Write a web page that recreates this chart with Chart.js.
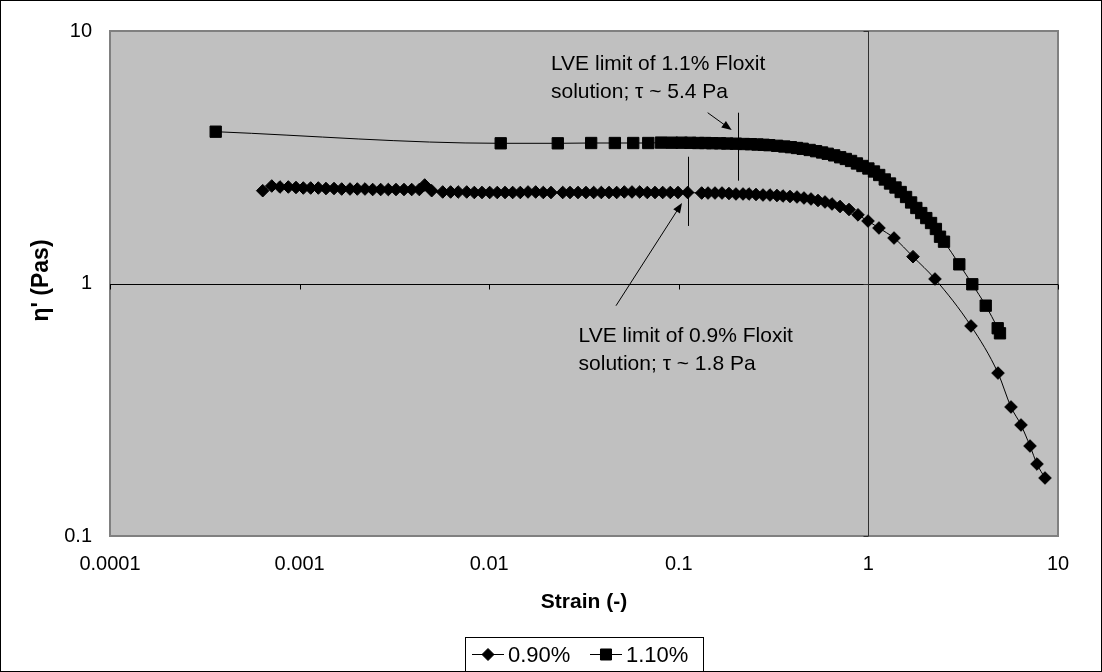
<!DOCTYPE html>
<html>
<head>
<meta charset="utf-8">
<script src="https://cdn.jsdelivr.net/npm/chart.js@4.4.1/dist/chart.umd.min.js"></script>
<style>
  html, body { margin: 0; padding: 0; background: #fff; }
</style>
</head>
<body>
<canvas id="chart" width="1102" height="672"></canvas>
<script>
// ==============================
// Data
// ==============================
const seriesLabels = ["0.90%", "1.10%"];

// 0.90% Floxit (diamonds)
const strain090 = [
  0.000639, 0.000713, 0.000788, 0.000872, 0.000957, 0.001046, 0.001144, 0.001255, 0.001378, 0.001519,
  0.001667, 0.001844, 0.002015, 0.002212, 0.002429, 0.002677, 0.002937, 0.003224, 0.003553, 0.003902,
  0.004280, 0.004568, 0.004972,
  0.005685, 0.006258, 0.006863, 0.007610, 0.008345, 0.009163, 0.01006, 0.01103, 0.01212, 0.01330,
  0.01459, 0.01602, 0.01758, 0.01929, 0.02118,
  0.02442, 0.02668, 0.02940,
  0.03239, 0.03557, 0.03903, 0.04284, 0.04704, 0.05160, 0.05664, 0.06219, 0.06823, 0.07490,
  0.08224, 0.09020, 0.09904, 0.1113,
  0.1320,
  0.1426, 0.1552, 0.1690, 0.1839, 0.2002, 0.2181, 0.2346, 0.2554, 0.2780, 0.3027,
  0.3295, 0.3544, 0.3859, 0.4201, 0.4573, 0.4981, 0.5422, 0.5903, 0.6427, 0.7084,
  0.7902, 0.8812, 0.9952, 1.137, 1.365, 1.719, 2.245, 3.476, 4.826, 5.650,
  6.381, 7.118, 7.749, 8.540
];
const eta090 = [
  2.331, 2.433, 2.411, 2.411, 2.400, 2.389, 2.389, 2.389, 2.378, 2.378,
  2.367, 2.367, 2.367, 2.367, 2.356, 2.356, 2.356, 2.356, 2.356, 2.356,
  2.356, 2.455, 2.331,
  2.304, 2.304, 2.304, 2.304, 2.293, 2.293, 2.293, 2.293, 2.293, 2.293,
  2.293, 2.304, 2.304, 2.293, 2.293,
  2.293, 2.293, 2.293,
  2.293, 2.293, 2.293, 2.293, 2.293, 2.304, 2.304, 2.304, 2.293, 2.293,
  2.293, 2.293, 2.293, 2.293,
  2.282,
  2.282, 2.282, 2.282, 2.272, 2.262, 2.262, 2.262, 2.252, 2.241, 2.241,
  2.231, 2.221, 2.211, 2.201, 2.181, 2.161, 2.132, 2.103, 2.065, 2.018,
  1.964, 1.870, 1.768, 1.659, 1.514, 1.277, 1.042, 0.6789, 0.4419, 0.3243,
  0.2752, 0.2272, 0.1928, 0.1697
];

// 1.10% Floxit (squares)
const strain110 = [
  0.000361, 0.0115, 0.023, 0.0345, 0.046, 0.0575, 0.069, 0.0805, 0.092, 0.1035,
  0.115, 0.1265, 0.138, 0.15, 0.165, 0.18, 0.2, 0.22, 0.24, 0.26,
  0.28, 0.3, 0.33, 0.36, 0.39, 0.42, 0.45, 0.49, 0.53, 0.57,
  0.61, 0.66, 0.71, 0.76, 0.81, 0.87, 0.93, 1.0, 1.07, 1.14,
  1.22, 1.3, 1.39, 1.48, 1.58, 1.68, 1.79, 1.9, 2.02, 2.14,
  2.27, 2.386, 2.505, 3.016, 3.532, 4.157, 4.808, 4.943
];
const eta110 = [
  3.992, 3.591, 3.591, 3.601, 3.601, 3.601, 3.601, 3.614, 3.611, 3.611,
  3.608, 3.601, 3.601, 3.594, 3.591, 3.584, 3.578, 3.568, 3.562, 3.552,
  3.543, 3.530, 3.510, 3.488, 3.466, 3.441, 3.416, 3.379, 3.342, 3.303,
  3.264, 3.217, 3.162, 3.113, 3.057, 2.988, 2.920, 2.854, 2.777, 2.690,
  2.582, 2.489, 2.400, 2.303, 2.201, 2.094, 1.991, 1.901, 1.816, 1.736,
  1.644, 1.532, 1.464, 1.191, 0.993, 0.817, 0.665, 0.635
];

// axes
const xTicks = [0.0001, 0.001, 0.01, 0.1, 1, 10];
const yTicks = [0.1, 1, 10];
const xCross = 1;   // y-axis crosses at strain = 1
const yCross = 1;   // x-axis crosses at eta = 1
const xTitle = "Strain (-)";
const yTitle = "η' (Pas)";

// annotations (data coordinates)
const noteTexts = [
  ["LVE limit of 1.1% Floxit", "solution; τ ~ 5.4 Pa"],
  ["LVE limit of 0.9% Floxit", "solution; τ ~ 1.8 Pa"]
];
const noteAnchors = [[0.02118, 7.005], [0.02961, 0.589]];
const limitLines = [[0.206, 4.747, 2.554], [0.1114, 3.177, 1.690]];
const arrows = [[0.1420, 4.747, 0.1901, 4.054], [0.04665, 0.8167, 0.1040, 2.084]];

const FONT = "'Liberation Sans', Arial, sans-serif";

// ==============================
// Excel-look plugin: plot area, crossing axes, annotations, legend
// ==============================
const excelLook = {
  id: "excelLook",
  beforeDraw(chart) {
    const { ctx, chartArea: a } = chart;
    ctx.save();
    ctx.fillStyle = "#fff";
    ctx.fillRect(0, 0, chart.width, chart.height);
    ctx.strokeStyle = "#000";
    ctx.lineWidth = 1;
    ctx.strokeRect(0.5, 0.5, chart.width - 1, chart.height - 1);
    ctx.fillStyle = "#c0c0c0";
    ctx.fillRect(a.left, a.top, a.right - a.left, a.bottom - a.top);
    ctx.strokeStyle = "#808080";
    ctx.lineWidth = 2;
    ctx.strokeRect(a.left, a.top, a.right - a.left, a.bottom - a.top);
    ctx.restore();
  },
  beforeDatasetsDraw(chart) {
    const { ctx, chartArea: a, scales: { x, y } } = chart;
    const x0 = Math.round(x.getPixelForValue(xCross)) + 0.5;
    const y0 = Math.round(y.getPixelForValue(yCross)) + 0.5;
    ctx.save();
    ctx.lineWidth = 1;
    ctx.strokeStyle = "#000";
    ctx.beginPath();
    ctx.moveTo(a.left, y0);
    ctx.lineTo(a.right, y0);
    xTicks.forEach(v => {
      const px = Math.round(x.getPixelForValue(v)) + 0.5;
      ctx.moveTo(px, y0);
      ctx.lineTo(px, y0 + 5);
    });
    ctx.stroke();
    ctx.strokeStyle = "#303030";
    ctx.beginPath();
    ctx.moveTo(x0, a.top);
    ctx.lineTo(x0, a.bottom);
    yTicks.forEach(v => {
      const py = Math.round(y.getPixelForValue(v)) + 0.5;
      ctx.moveTo(x0 - 5, py);
      ctx.lineTo(x0, py);
    });
    ctx.stroke();
    ctx.restore();
  },
  afterDatasetsDraw(chart) {
    const { ctx, scales: { x, y } } = chart;
    ctx.save();
    ctx.strokeStyle = "#000";
    ctx.fillStyle = "#000";
    ctx.lineWidth = 1;

    // vertical LVE marks
    limitLines.forEach(([sx, y1, y2]) => {
      const px = Math.round(x.getPixelForValue(sx)) + 0.5;
      ctx.beginPath();
      ctx.moveTo(px, y.getPixelForValue(y1));
      ctx.lineTo(px, y.getPixelForValue(y2));
      ctx.stroke();
    });

    // arrows
    arrows.forEach(([sx1, sy1, sx2, sy2]) => {
      const x1 = x.getPixelForValue(sx1), y1 = y.getPixelForValue(sy1);
      const x2 = x.getPixelForValue(sx2), y2 = y.getPixelForValue(sy2);
      const ang = Math.atan2(y2 - y1, x2 - x1);
      ctx.beginPath();
      ctx.moveTo(x1, y1);
      ctx.lineTo(x2 - 6 * Math.cos(ang), y2 - 6 * Math.sin(ang));
      ctx.stroke();
      ctx.beginPath();
      ctx.moveTo(x2, y2);
      ctx.lineTo(x2 - 10 * Math.cos(ang) + 4 * Math.sin(ang), y2 - 10 * Math.sin(ang) - 4 * Math.cos(ang));
      ctx.lineTo(x2 - 10 * Math.cos(ang) - 4 * Math.sin(ang), y2 - 10 * Math.sin(ang) + 4 * Math.cos(ang));
      ctx.closePath();
      ctx.fill();
    });

    // annotation texts
    ctx.font = "21px " + FONT;
    ctx.textAlign = "left";
    ctx.textBaseline = "alphabetic";
    noteTexts.forEach((lines, i) => {
      const px = x.getPixelForValue(noteAnchors[i][0]);
      const py = y.getPixelForValue(noteAnchors[i][1]);
      lines.forEach((t, k) => ctx.fillText(t, px, py + k * 28));
    });
    ctx.restore();
  },
  afterDraw(chart) {
    const { ctx, chartArea: a } = chart;
    const cx = (a.left + a.right) / 2;
    ctx.save();
    ctx.fillStyle = "#000";

    // axis titles
    ctx.font = "bold 21px " + FONT;
    ctx.textAlign = "center";
    ctx.textBaseline = "middle";
    ctx.fillText(xTitle, cx, 602);
    ctx.font = "bold 23px " + FONT;
    ctx.translate(42, (a.top + a.bottom) / 2 - 3);
    ctx.rotate(-Math.PI / 2);
    ctx.fillText(yTitle, 0, 0);
    ctx.setTransform(1, 0, 0, 1, 0, 0);

    // legend
    const L = cx - 119, T = 637, W = 238, H = 34;
    ctx.fillStyle = "#fff";
    ctx.fillRect(L, T, W, H);
    ctx.strokeStyle = "#000";
    ctx.lineWidth = 1;
    ctx.strokeRect(L + 0.5, T + 0.5, W, H);
    const mid = T + H / 2 + 0.5;
    const items = [
      { x: L + 7, style: "rectRot", r: 6 },
      { x: L + 125, style: "rect", r: 7.8 }
    ];
    ctx.font = "22px " + FONT;
    ctx.textAlign = "left";
    ctx.textBaseline = "middle";
    items.forEach((it, i) => {
      ctx.strokeStyle = "#000";
      ctx.beginPath();
      ctx.moveTo(it.x, mid);
      ctx.lineTo(it.x + 32, mid);
      ctx.stroke();
      ctx.fillStyle = "#000";
      Chart.helpers.drawPoint(ctx, { pointStyle: it.style, radius: it.r, rotation: 0, borderWidth: 1 }, it.x + 16, mid);
      ctx.fillStyle = "#000";
      ctx.fillText(seriesLabels[i], it.x + 36, mid + 1);
    });
    ctx.restore();
  }
};

const toPoints = (xs, ys) => xs.map((v, i) => ({ x: v, y: ys[i] }));

new Chart(document.getElementById("chart").getContext("2d"), {
  type: "scatter",
  data: {
    datasets: [
      {
        label: seriesLabels[0],
        data: toPoints(strain090, eta090),
        showLine: true,
        borderColor: "#000",
        borderWidth: 1,
        tension: 0.3,
        cubicInterpolationMode: "monotone",
        pointStyle: "rectRot",
        pointRadius: 6.3,
        pointBorderWidth: 1,
        pointBackgroundColor: "#000",
        pointBorderColor: "#000"
      },
      {
        label: seriesLabels[1],
        data: toPoints(strain110, eta110),
        showLine: true,
        borderColor: "#000",
        borderWidth: 1,
        tension: 0.3,
        cubicInterpolationMode: "monotone",
        pointStyle: "rect",
        pointRadius: 8,
        pointBorderWidth: 1,
        pointBackgroundColor: "#000",
        pointBorderColor: "#000"
      }
    ]
  },
  options: {
    responsive: false,
    devicePixelRatio: 1,
    animation: false,
    layout: { padding: { left: 0, right: 44, top: 31, bottom: 0 } },
    plugins: { legend: { display: false }, tooltip: { enabled: false } },
    scales: {
      x: {
        type: "logarithmic",
        min: xTicks[0],
        max: xTicks[xTicks.length - 1],
        afterBuildTicks: s => { s.ticks = xTicks.map(v => ({ value: v })); },
        afterFit: s => { s.height = 136; },
        grid: { display: false, drawTicks: false },
        border: { display: false },
        ticks: {
          color: "#000",
          font: { family: FONT, size: 20 },
          padding: 16,
          maxRotation: 0,
          autoSkip: false,
          callback: v => String(v)
        }
      },
      y: {
        type: "logarithmic",
        min: yTicks[0],
        max: yTicks[yTicks.length - 1],
        afterBuildTicks: s => { s.ticks = yTicks.map(v => ({ value: v })); },
        afterFit: s => { s.width = 110; },
        grid: { display: false, drawTicks: false },
        border: { display: false },
        ticks: {
          color: "#000",
          font: { family: FONT, size: 20 },
          padding: 18,
          autoSkip: false,
          callback: v => String(v)
        }
      }
    }
  },
  plugins: [excelLook]
});
</script>
</body>
</html>
